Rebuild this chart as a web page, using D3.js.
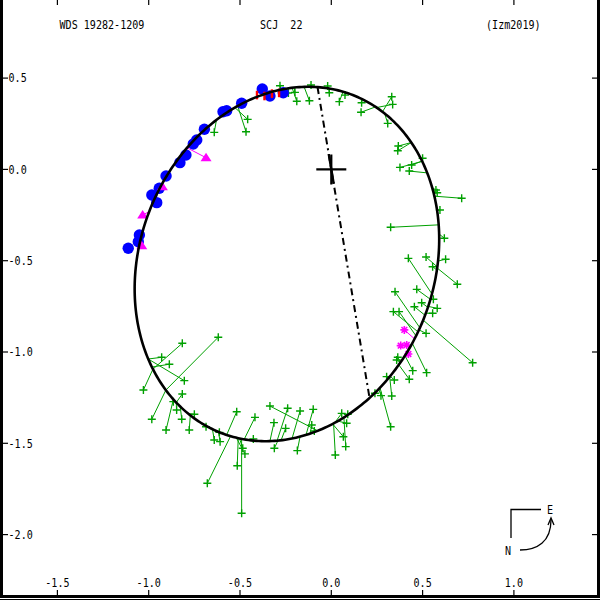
<!DOCTYPE html>
<html><head><meta charset="utf-8">
<script src="https://cdn.jsdelivr.net/npm/d3@7"></script>
<style>body{margin:0;background:#fff}svg{display:block}text{white-space:pre}</style>
</head><body><svg id="c" width="600" height="600"></svg>
<script>
// ---- titles ----
const titleLeft = "WDS 19282-1209";
const titleMid = "SCJ  22";
const titleRight = "(Izm2019)";

// ---- axis ticks ----
const xTicks = [-1.5, -1.0, -0.5, 0.0, 0.5, 1.0];
const xTickLabels = ["-1.5", "-1.0", "-0.5", "0.0", "0.5", "1.0"];
const yTicks = [0.5, 0.0, -0.5, -1.0, -1.5, -2.0];
const yTickLabels = ["0.5", "0.0", "-0.5", "-1.0", "-1.5", "-2.0"];

// ---- apparent orbit (arcsec) ----
const ellipseCenter = [-0.243, -0.518];
const ellipseAxes = [0.993, 0.807];
const ellipseAngleDeg = 68.7;
const nodeAngleDeg = 99.5;

// ---- interferometric measures (blue) ----
const blueX = [-1.112,-1.051,-1.057,-0.983,-0.956,-0.942,-0.905,-0.829,-0.796,-0.756,-0.737,-0.695,-0.593,-0.573,-0.491,-0.378,-0.336,-0.263];
const blueY = [-0.432,-0.359,-0.396,-0.140,-0.182,-0.103,-0.036,0.037,0.079,0.139,0.161,0.220,0.316,0.321,0.362,0.440,0.402,0.420];

// ---- red measures ----
const redX = [-0.407,-0.366,-0.325,-0.286];
const redY = [0.407,0.402,0.415,0.419];

// ---- magenta triangles ----
const triObsX = [-0.686,-0.925,-1.033,-1.038];
const triObsY = [0.064,-0.095,-0.250,-0.418];
const triCalcX = [-0.764,-0.905,-0.992,-1.045];
const triCalcY = [0.088,-0.063,-0.233,-0.430];

// ---- magenta asterisks ----
const starObsX = [0.400,0.380,0.413,0.422];
const starObsY = [-0.879,-0.965,-0.962,-1.011];
const starCalcX = [0.447,0.431,0.431,0.404];
const starCalcY = [-0.923,-0.967,-0.967,-1.011];

// ---- micrometric measures (green) ----
const gObsX = [-0.281,-0.235,-0.199,-0.189,-0.111,-0.120,-0.020,-0.011,0.044,0.075,
 -0.458,-0.467,-0.641,0.166,0.163,0.331,0.336,0.309,0.367,0.364,
 0.500,0.376,0.440,0.427,0.573,0.580,0.714,0.595,0.325,0.619,
 0.422,0.519,0.626,0.555,0.690,0.349,0.468,0.495,0.455,0.559,
 0.580,0.555,0.340,0.371,0.519,0.774,0.364,0.358,0.446,0.522,
 0.427,0.303,0.345,0.331,0.272,0.239,0.325,
 0.057,0.084,0.090,0.066,0.079,0.022,-0.099,-0.107,-0.093,-0.171,
 -0.239,-0.336,-0.314,-0.250,-0.312,-0.186,-0.518,-0.679,-0.418,-0.427,
 -0.515,-0.473,-0.485,-0.491,-0.619,-0.983,-0.816,-1.029,-0.929,-0.805,
 -0.887,-0.816,-0.865,-0.847,-0.750,-0.819,-0.905,-0.778,-0.686,-0.613,
 -0.641,-0.609];
const gObsY = [0.458,0.418,0.422,0.373,0.462,0.376,0.457,0.420,0.371,0.407,
 0.274,0.206,0.203,0.365,0.313,0.398,0.356,0.252,0.128,0.102,
 0.061,0.011,0.024,-0.009,-0.113,-0.128,-0.158,-0.222,-0.317,-0.377,
 -0.487,-0.480,-0.492,-0.533,-0.629,-0.670,-0.657,-0.730,-0.752,-0.711,
 -0.761,-0.788,-0.779,-0.779,-0.898,-1.059,-1.029,-1.044,-1.102,-1.113,
 -1.149,-1.135,-1.153,-1.241,-1.239,-1.226,-1.409,
 -1.336,-1.390,-1.341,-1.464,-1.518,-1.564,-1.314,-1.400,-1.433,-1.323,
 -1.308,-1.296,-1.387,-1.418,-1.527,-1.540,-1.327,-1.719,-1.358,-1.476,
 -1.623,-1.558,-1.527,-1.883,-0.919,-1.368,-0.952,-1.208,-1.029,-1.157,
 -1.067,-1.230,-1.272,-1.318,-1.341,-1.368,-1.427,-1.427,-1.409,-1.440,
 -1.482,-1.491];
const gCalcX = [-0.275,-0.248,-0.204,-0.215,-0.111,-0.149,-0.024,-0.013,0.064,0.080,
 -0.527,-0.511,-0.626,0.168,0.245,0.283,0.250,0.294,0.436,0.436,
 0.491,0.486,0.491,0.524,0.557,0.562,0.579,0.584,0.587,0.590,
 0.551,0.579,0.587,0.579,0.573,0.486,0.557,0.540,0.524,0.551,
 0.540,0.530,0.475,0.464,0.480,0.502,0.376,0.376,0.398,0.442,
 0.365,0.310,0.321,0.321,0.256,0.239,0.276,
 0.020,0.037,0.064,0.009,0.070,0.015,-0.139,-0.117,-0.100,-0.215,
 -0.297,-0.073,-0.336,-0.275,-0.292,-0.171,-0.577,-0.555,-0.478,-0.429,
 -0.511,-0.522,-0.505,-0.494,-0.916,-0.916,-0.982,-0.982,-1.002,-1.002,
 -0.982,-0.856,-0.872,-0.856,-0.785,-0.829,-0.872,-0.774,-0.703,-0.637,
 -0.653,-0.620];
const gCalcY = [0.435,0.435,0.446,0.440,0.451,0.451,0.446,0.446,0.424,0.418,
 0.336,0.342,0.265,0.380,0.347,0.320,0.342,0.309,0.145,0.145,
 0.062,0.035,0.041,-0.020,-0.096,-0.113,-0.140,-0.222,-0.304,-0.354,
 -0.682,-0.534,-0.502,-0.551,-0.540,-0.868,-0.715,-0.759,-0.803,-0.715,
 -0.753,-0.792,-0.890,-0.912,-0.879,-0.825,-1.055,-1.055,-1.016,-0.951,
 -1.066,-1.142,-1.131,-1.137,-1.197,-1.213,-1.208,
 -1.394,-1.383,-1.367,-1.400,-1.361,-1.400,-1.449,-1.443,-1.438,-1.471,
 -1.487,-1.438,-1.487,-1.482,-1.487,-1.465,-1.465,-1.471,-1.482,-1.487,
 -1.476,-1.476,-1.482,-1.487,-1.219,-1.219,-1.098,-1.098,-1.038,-1.038,
 -1.082,-1.285,-1.263,-1.285,-1.339,-1.301,-1.268,-1.350,-1.405,-1.433,
 -1.427,-1.443];

// ================= drawing =================
const svg = d3.select("#c");
svg.append("rect").attr("width", 600).attr("height", 600).attr("fill", "#fff");

const x = d3.scaleLinear().domain([-1.5, 1.0]).range([57.4, 513.9]);
const y = d3.scaleLinear().domain([0.5, -2.0]).range([78.1, 534.6]);

const FONT = "DejaVu Sans Mono";
const SX = 0.84;
function label(txt, px, py, anchor) {
  svg.append("text")
    .attr("transform", `translate(${px},${py}) scale(${SX},1)`)
    .attr("text-anchor", anchor || "start")
    .attr("xml:space", "preserve")
    .attr("font-family", FONT).attr("font-size", 12).attr("fill", "#000")
    .text(txt);
}

// ellipse geometry
const th = ellipseAngleDeg * Math.PI / 180;
const U = [Math.cos(th), Math.sin(th)], V = [-Math.sin(th), Math.cos(th)];
const [ecx, ecy] = ellipseCenter, [ea, eb] = ellipseAxes;
function ePoint(s) {
  return [ecx + ea * Math.cos(s) * U[0] + eb * Math.sin(s) * V[0],
          ecy + ea * Math.cos(s) * U[1] + eb * Math.sin(s) * V[1]];
}
function snap(px, py) {
  const dx = px - ecx, dy = py - ecy;
  const u = dx * U[0] + dy * U[1], v = dx * V[0] + dy * V[1];
  const phi = Math.atan2(v, u);
  const r = 1 / Math.sqrt((Math.cos(phi) / ea) ** 2 + (Math.sin(phi) / eb) ** 2);
  const lu = r * Math.cos(phi), lv = r * Math.sin(phi);
  return [ecx + lu * U[0] + lv * V[0], ecy + lu * U[1] + lv * V[1]];
}

const GREEN = "#00a000", MAG = "#ff00ff";

// green O-C lines
const gLines = svg.append("g").attr("stroke", GREEN).attr("stroke-width", 1);
gObsX.forEach((ox, i) => {
  const c = snap(gCalcX[i], gCalcY[i]);
  gLines.append("line").attr("x1", x(ox)).attr("y1", y(gObsY[i]))
    .attr("x2", x(c[0])).attr("y2", y(c[1]));
});
// green crosses
const gCross = svg.append("g").attr("stroke", GREEN).attr("stroke-width", 1.4);
gObsX.forEach((ox, i) => {
  const cx = x(ox), cy = y(gObsY[i]), r = 4;
  gCross.append("path").attr("d", `M${cx - r},${cy}H${cx + r}M${cx},${cy - r}V${cy + r}`);
});

// blue circles
svg.append("g").selectAll("circle").data(blueX).join("circle")
  .attr("cx", d => x(d)).attr("cy", (d, i) => y(blueY[i])).attr("r", 5.7)
  .attr("fill", "#0000ff");

// red bars
svg.append("g").attr("stroke", "#ff0000").attr("stroke-width", 2.4)
  .selectAll("line").data(redX).join("line")
  .attr("x1", d => x(d)).attr("x2", d => x(d))
  .attr("y1", (d, i) => y(redY[i]) - 4.3).attr("y2", (d, i) => y(redY[i]) + 4.3);

// magenta triangles
const tri = svg.append("g");
triObsX.forEach((ox, i) => {
  const c = snap(triCalcX[i], triCalcY[i]);
  const px = x(ox), py = y(triObsY[i]);
  tri.append("line").attr("x1", px).attr("y1", py).attr("x2", x(c[0])).attr("y2", y(c[1]))
    .attr("stroke", MAG).attr("stroke-width", 1);
  tri.append("path").attr("d", `M${px},${py - 5}L${px + 5.5},${py + 3.5}L${px - 5.5},${py + 3.5}Z`)
    .attr("fill", MAG);
});

// magenta asterisks
const st = svg.append("g").attr("stroke", MAG);
starObsX.forEach((ox, i) => {
  const c = snap(starCalcX[i], starCalcY[i]);
  const px = x(ox), py = y(starObsY[i]), r = 4;
  st.append("line").attr("x1", px).attr("y1", py).attr("x2", x(c[0])).attr("y2", y(c[1]))
    .attr("stroke-width", 1);
  const d = r * 0.72;
  st.append("path").attr("stroke-width", 1.6)
    .attr("d", `M${px - r},${py}H${px + r}M${px},${py - r}V${py + r}M${px - d},${py - d}L${px + d},${py + d}M${px - d},${py + d}L${px + d},${py - d}`);
});

// orbit ellipse
const ePts = d3.range(0, 361).map(k => ePoint(k * Math.PI / 180));
svg.append("path").datum(ePts)
  .attr("d", d3.line().x(p => x(p[0])).y(p => y(p[1])))
  .attr("fill", "none").attr("stroke", "#000").attr("stroke-width", 2.6);

// line of nodes
const na = nodeAngleDeg * Math.PI / 180, dvec = [Math.cos(na), Math.sin(na)];
const du = dvec[0] * U[0] + dvec[1] * U[1], dv = dvec[0] * V[0] + dvec[1] * V[1];
const cu = ecx * U[0] + ecy * U[1], cv = ecx * V[0] + ecy * V[1];
const qa = du * du / (ea * ea) + dv * dv / (eb * eb);
const qb = -2 * (du * cu / (ea * ea) + dv * cv / (eb * eb));
const qc = cu * cu / (ea * ea) + cv * cv / (eb * eb) - 1;
const disc = Math.sqrt(qb * qb - 4 * qa * qc);
const t1 = (-qb + disc) / (2 * qa), t2 = (-qb - disc) / (2 * qa);
svg.append("line")
  .attr("x1", x(t1 * dvec[0])).attr("y1", y(t1 * dvec[1]))
  .attr("x2", x(t2 * dvec[0])).attr("y2", y(t2 * dvec[1]))
  .attr("stroke", "#000").attr("stroke-width", 2).attr("stroke-dasharray", "7,4,2,4");
svg.append("line")
  .attr("x1", x(0.085 * dvec[0])).attr("y1", y(0.085 * dvec[1]))
  .attr("x2", x(-0.08 * dvec[0])).attr("y2", y(-0.08 * dvec[1]))
  .attr("stroke", "#000").attr("stroke-width", 2.4);

// primary star
svg.append("path")
  .attr("d", `M${x(0) - 15},${y(0)}H${x(0) + 15}M${x(0)},${y(0) - 15}V${y(0) + 15}`)
  .attr("stroke", "#000").attr("stroke-width", 2.2);

// frame
const fr = svg.append("g").attr("stroke", "#000");
fr.append("line").attr("x1", 1.5).attr("x2", 1.5).attr("y1", 0).attr("y2", 598).attr("stroke-width", 3);
fr.append("line").attr("x1", 598.5).attr("x2", 598.5).attr("y1", 0).attr("y2", 598).attr("stroke-width", 3);
fr.append("line").attr("x1", 0).attr("x2", 600).attr("y1", 596.5).attr("y2", 596.5).attr("stroke-width", 3);
fr.append("line").attr("x1", 0).attr("x2", 600).attr("y1", 599.5).attr("y2", 599.5).attr("stroke-width", 1);

// ticks
const tk = svg.append("g").attr("stroke", "#000").attr("stroke-width", 1.2);
xTicks.forEach(t => {
  tk.append("line").attr("x1", x(t)).attr("x2", x(t)).attr("y1", 0).attr("y2", 5);
  tk.append("line").attr("x1", x(t)).attr("x2", x(t)).attr("y1", 590).attr("y2", 595);
});
yTicks.forEach(t => {
  tk.append("line").attr("y1", y(t)).attr("y2", y(t)).attr("x1", 3).attr("x2", 8);
  tk.append("line").attr("y1", y(t)).attr("y2", y(t)).attr("x1", 592).attr("x2", 597);
});

// tick labels
xTicks.forEach((t, i) => label(xTickLabels[i], x(t), 586.5, "middle"));
yTicks.forEach((t, i) => label(yTickLabels[i], 8.5, y(t) + 4.3, "start"));

// titles
label(titleLeft, 59.5, 29.3, "start");
label(titleMid, 260, 29.3, "start");
label(titleRight, 486, 29.3, "start");

// compass
const cp = svg.append("g").attr("stroke", "#000").attr("stroke-width", 1.3).attr("fill", "none");
cp.append("path").attr("d", "M541,509.5H511V538");
cp.append("path").attr("d", "M520,550C537,550 551,542 551,520");
cp.append("path").attr("d", "M548,525L551,518L554,525");
label("E", 550, 513.5, "middle");
label("N", 508, 554.5, "middle");
</script></body></html>
